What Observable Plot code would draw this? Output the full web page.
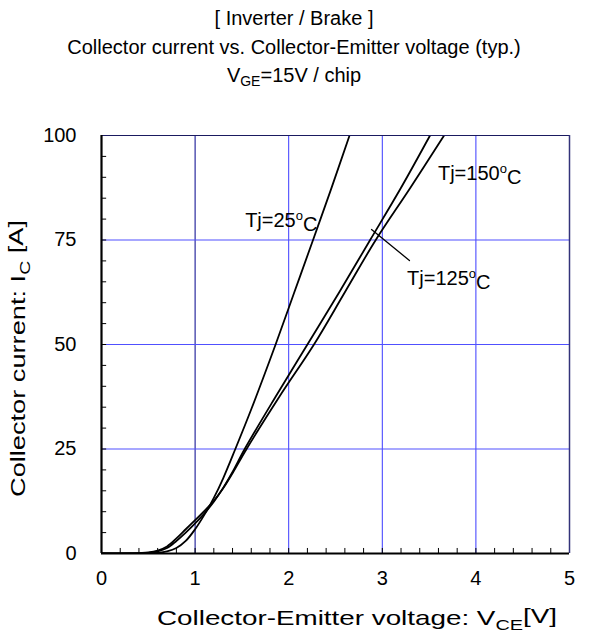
<!DOCTYPE html>
<html><head><meta charset="utf-8">
<script src="https://cdn.jsdelivr.net/npm/d3@7"></script>
<script src="https://cdn.jsdelivr.net/npm/@observablehq/plot@0.6"></script>
<style>
body{margin:0;background:#fff;font-family:"Liberation Sans",Arial,sans-serif;color:#000;}
.t{position:absolute;left:0;width:588px;text-align:center;font-size:20px;line-height:24px;}
.t sub{font-size:14px;vertical-align:-4px;line-height:0;}
#chart{position:absolute;left:0;top:100px;}
</style></head><body>
<div class="t" style="top:6px">[ Inverter / Brake ]</div>
<div class="t" style="top:35px">Collector current vs. Collector-Emitter voltage (typ.)</div>
<div class="t" style="top:63px">V<sub>GE</sub>=15V / chip</div>
<div id="chart"></div>
<script>
// Series: Tj = 25 °C
const vce25 = [0, 0.3, 0.5, 0.6, 0.7, 0.8, 0.9, 1.0, 1.1, 1.2, 1.3, 1.43, 1.6, 1.86, 2.06, 2.26, 2.45, 2.65];
const ic25  = [0, 0, 0.03, 0.15, 0.5, 1.3, 3.0, 5.8, 9.3, 13.3, 18, 25, 34.5, 50, 62.5, 75, 87, 100];
// Series: Tj = 125 °C
const vce125 = [0, 0.3, 0.5, 0.6, 0.7, 0.8, 0.9, 1.0, 1.1, 1.2, 1.3, 1.4, 1.53, 1.86, 2.2, 2.54, 2.87, 3.2, 3.51];
const ic125  = [0, 0.02, 0.15, 0.5, 1.3, 3.0, 5.0, 7.2, 9.6, 12.4, 15.7, 19.5, 25, 37.5, 50, 62.5, 75, 87.5, 100];
// Series: Tj = 150 °C
const vce150 = [0, 0.3, 0.5, 0.6, 0.7, 0.8, 0.9, 1.0, 1.1, 1.2, 1.3, 1.4, 1.55, 1.9, 2.27, 2.6, 2.93, 3.3, 3.66];
const ic150  = [0, 0.03, 0.25, 0.7, 1.7, 3.6, 5.8, 8.0, 10.2, 12.6, 15.6, 19.2, 25, 37.5, 50, 62.5, 75, 87.5, 100];

const xTicks = [0, 1, 2, 3, 4, 5];
const yTicks = [0, 25, 50, 75, 100];
const xMinor = d3.range(0, 5.001, 0.2);
const yMinor = d3.range(0, 100.001, 5);

const labelText = ["Tj=25", "Tj=150", "Tj=125"];
const labelV = [1.54, 3.6, 3.27];
const labelI = [79.7, 90.9, 65.8];
const leaderV = [3.29, 2.885];
const leaderI = [70.1, 77.5];

const data = [
  ...vce25.map((v, i) => ({tj: "25", v, ic: ic25[i]})),
  ...vce125.map((v, i) => ({tj: "125", v, ic: ic125[i]})),
  ...vce150.map((v, i) => ({tj: "150", v, ic: ic150[i]}))
];
const leader = leaderV.map((v, i) => ({v, ic: leaderI[i]}));

const chart = Plot.plot({
  width: 593, height: 541,
  marginTop: 35, marginBottom: 88, marginLeft: 101, marginRight: 24,
  style: {fontFamily: "Liberation Sans, Arial, sans-serif", fontSize: "20px", color: "#000", background: "#fff"},
  x: {domain: [0, 5]},
  y: {domain: [0, 100]},
  marks: [
    Plot.ruleX([1], {stroke: "#00008b", strokeWidth: 1}),
    Plot.ruleX([2, 3, 4], {stroke: "#3a3aff", strokeWidth: 1}),
    Plot.ruleY([25, 50, 75], {stroke: "#5050ff", strokeWidth: 1.2}),
    Plot.ruleY(yMinor, {x1: 0, x2: 0.055, stroke: "#000"}),
    Plot.ruleX(xMinor, {y1: 0, y2: 1.2, stroke: "#000"}),
    Plot.line(data, {x: "v", y: "ic", z: "tj", curve: "catmull-rom", stroke: "#000", strokeWidth: 1.8, clip: true}),
    Plot.line(leader, {x: "v", y: "ic", stroke: "#000", strokeWidth: 1.3}),
    Plot.ruleY([100], {stroke: "#1a1a60", strokeWidth: 1.2}),
    Plot.ruleX([5], {stroke: "#33337a", strokeWidth: 1.5}),
    Plot.ruleX([0], {stroke: "#000", strokeWidth: 2.2}),
    Plot.ruleY([0], {stroke: "#000", strokeWidth: 2.2}),
    Plot.axisX({ticks: xTicks, tickSize: 0, tickPadding: 17, tickFormat: d => String(d), label: null}),
    Plot.axisY({ticks: yTicks, tickSize: 0, tickPadding: 25, tickFormat: d => String(d), label: null})
  ]
});
document.getElementById("chart").appendChild(chart);

const svg = d3.select(chart);
const sx = chart.scale("x"), sy = chart.scale("y");
const font = "Liberation Sans, Arial, sans-serif";

// Temperature labels with superscript o
labelText.forEach((t, i) => {
  const tx = svg.append("text")
    .attr("x", sx.apply(labelV[i])).attr("y", sy.apply(labelI[i]))
    .attr("dy", "0.35em").attr("text-anchor", "start")
    .attr("font-family", font).attr("font-size", 20).attr("fill", "#000");
  tx.append("tspan").text(t);
  tx.append("tspan").attr("font-size", 13).attr("dy", "-0.55em").text("o");
  tx.append("tspan").attr("dy", "0.55em").text("C");
});

// Y axis title (bottom at page y 497, length ~277)
const yl = svg.append("text")
  .attr("transform", `translate(25,397) rotate(-90)`)
  .attr("text-anchor", "start").attr("font-family", font).attr("font-size", 21).attr("fill", "#000")
  .attr("textLength", 277).attr("lengthAdjust", "spacingAndGlyphs");
yl.append("tspan").text("Collector current: I");
yl.append("tspan").attr("font-size", 15).attr("dy", "0.3em").text("C");
yl.append("tspan").attr("dy", "-0.3em").text(" [A]");

// X axis title (page x 157 to ~562)
const xl = svg.append("text")
  .attr("x", 157).attr("y", 525)
  .attr("text-anchor", "start").attr("font-family", font).attr("font-size", 21).attr("fill", "#000")
  .attr("textLength", 400).attr("lengthAdjust", "spacingAndGlyphs");
xl.append("tspan").text("Collector-Emitter voltage: V");
xl.append("tspan").attr("font-size", 15).attr("dy", "0.3em").text("CE");
xl.append("tspan").attr("dy", "-0.3em").text("[V]");
</script>
</body></html>
